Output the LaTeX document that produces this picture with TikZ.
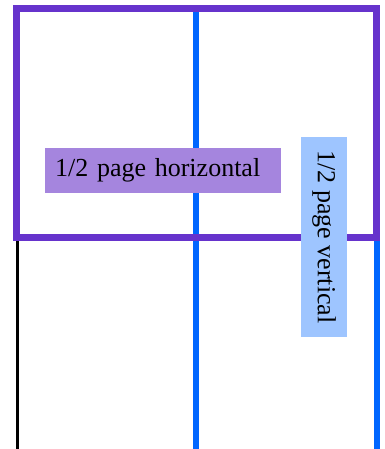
\documentclass[tikz,border=0pt]{standalone}
\usepackage{fontspec}
\setmainfont{Liberation Serif}
\usepackage{tikz}
\usetikzlibrary{positioning}
\definecolor{framepurple}{HTML}{6633CC}
\definecolor{lineblue}{HTML}{0066FF}
\definecolor{boxpurple}{HTML}{A585DE}
\definecolor{boxblue}{HTML}{9EC5FF}

\begin{document}
\begin{tikzpicture}
    [x=1pt, y=-1pt,
     halfbox/.style={inner sep=0pt, font=\fontsize{26}{30}\selectfont, align=center},
     column/.style={line width=6pt, lineblue}]
    \useasboundingbox (0,0) rectangle (384,449);

    % column rules
    \coordinate (midtop) at (196,12);
    \coordinate (midbot) at (196,449);
    \coordinate (righttop) at (376.5,240);
    \coordinate (rightbot) at (376.5,449);
    \coordinate (lefttop) at (17.5,240);
    \coordinate (leftbot) at (17.5,449);
    \draw [column] (midtop) -- (midbot);
    \draw [column] (righttop) -- (rightbot);
    \draw [line width=3pt, black] (lefttop) -- (leftbot);

    % half page frame
    \draw [line width=7pt, framepurple] (16.5,8.5) rectangle (376.5,237.5);

    \node [halfbox, fill=boxpurple, anchor=west, text width=216pt, inner xsep=10pt,
           minimum height=45pt, align=left] (horiz) at (45,170.5) {1/2 page horizontal};
    \node [halfbox, fill=boxblue, rotate=-90, minimum width=200pt, minimum height=46pt]
           (vert) at (324,237) {1/2 page vertical};
\end{tikzpicture}
\end{document}
